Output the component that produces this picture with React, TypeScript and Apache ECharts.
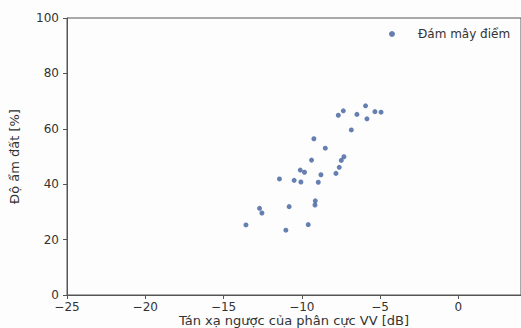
import React, { useEffect, useRef } from "react";
import * as echarts from "echarts";

const seriesName = "Đám mây điểm";
const xTitle = "Tán xạ ngược của phân cực VV [dB]";
const yTitle = "Độ ẩm đất [%]";
const backscatterVV = [
  -13.57, -12.7, -12.55, -11.02, -10.81, -11.43, -10.49, -10.06, -10.1, -9.83,
  -9.59, -9.14, -9.16, -8.95, -8.78, -9.38, -9.23, -8.5, -7.82, -7.61,
  -7.48, -7.31, -7.67, -7.35, -6.84, -6.48, -5.93, -5.84, -5.33, -4.94,
];
const soilMoisture = [
  25.3, 31.3, 29.6, 23.4, 31.9, 41.9, 41.4, 40.8, 45.1, 44.3,
  25.4, 34.0, 32.5, 40.7, 43.4, 48.7, 56.4, 53.0, 43.9, 46.1,
  48.6, 49.9, 64.9, 66.5, 59.6, 65.2, 68.3, 63.6, 66.2, 66.0,
];

export default function App() {
  const ref = useRef<HTMLDivElement>(null);
  useEffect(() => {
    if (!ref.current) return;
    const chart = echarts.init(ref.current, null, { renderer: "svg" });
    const font = "DejaVu Sans";
    chart.setOption({
      animation: false,
      backgroundColor: "#fdfdfd",
      textStyle: { fontFamily: font },
      grid: {
        left: 67,
        top: 18,
        bottom: 33,
        right: 0,
        outerBoundsMode: "none",
        containLabel: false,
        show: true,
        borderColor: "#555",
        borderWidth: 1,
        backgroundColor: "transparent",
      },
      legend: {
        data: [{ name: seriesName, icon: "circle" }],
        left: 384,
        top: 23,
        itemWidth: 6,
        itemHeight: 6,
        itemGap: 8,
        textStyle: { fontSize: 12, color: "#333", fontFamily: font, padding: [0, 0, 0, 18] },
      },
      xAxis: {
        type: "value",
        min: -25,
        max: 4,
        interval: 5,
        name: xTitle,
        nameLocation: "middle",
        nameGap: 19,
        nameMoveOverlap: false,
        nameTextStyle: { fontSize: 13, color: "#333", fontFamily: font, verticalAlign: "top" },
        axisLine: { show: true, onZero: false, lineStyle: { color: "#555" } },
        axisTick: { show: true, inside: false, length: 4, lineStyle: { color: "#555" } },
        axisLabel: {
          fontSize: 12,
          color: "#333",
          margin: 6,
          showMaxLabel: false,
          formatter: (v: number) =>
            v % 5 !== 0 ? "" : v < 0 ? "\u2212" + Math.abs(v) : String(v),
        },
        splitLine: { show: false },
      },
      yAxis: {
        type: "value",
        min: 0,
        max: 100,
        interval: 20,
        name: yTitle,
        nameLocation: "middle",
        nameGap: 46,
        nameMoveOverlap: false,
        nameTextStyle: { fontSize: 13, color: "#333", fontFamily: font },
        axisLine: { show: true, onZero: false, lineStyle: { color: "#555" } },
        axisTick: { show: true, inside: false, length: 4, lineStyle: { color: "#555" } },
        axisLabel: { fontSize: 12, color: "#333", margin: 8 },
        splitLine: { show: false },
      },
      series: [
        {
          name: seriesName,
          type: "scatter",
          symbol: "circle",
          symbolSize: 5,
          itemStyle: { color: "#3f5f9e" },
          data: backscatterVV.map((x, i) => [x, soilMoisture[i]]),
        },
      ],
    });
    return () => chart.dispose();
  }, []);
  return <div ref={ref} style={{ width: 521, height: 328, position: "absolute", left: 0, top: 0 }} />;
}
